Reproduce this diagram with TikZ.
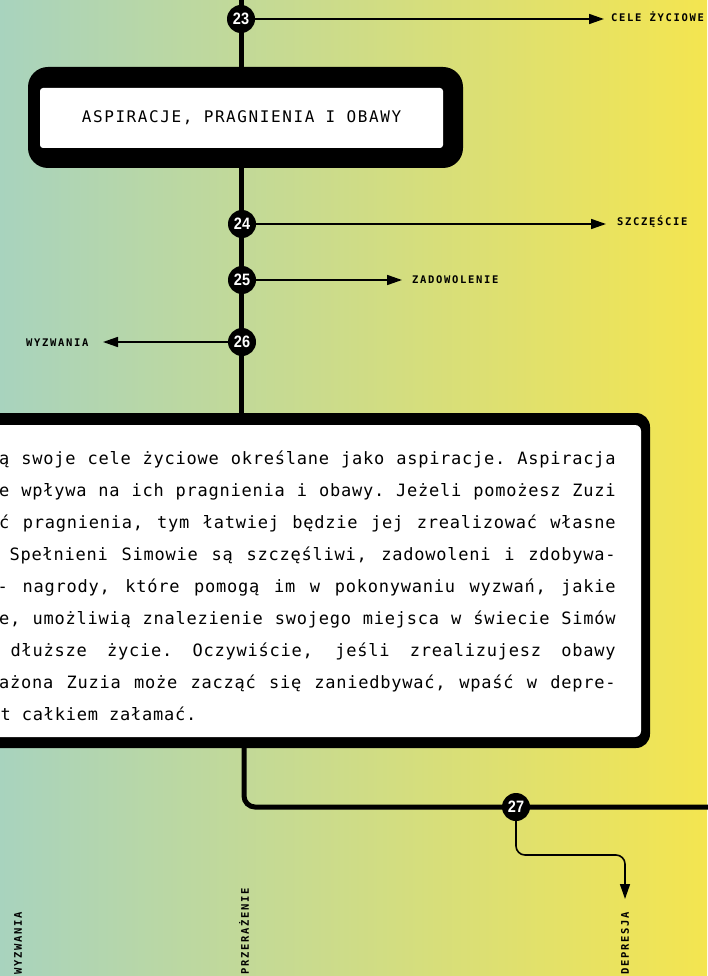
\documentclass[tikz,border=0pt]{standalone}
\usepackage{fontspec}
\usetikzlibrary{arrows.meta}

\newfontfamily\bodyfont{DejaVu Sans Mono}[LetterSpace=4.5]
\newfontfamily\titlefont{DejaVu Sans Mono}[LetterSpace=10]
\newfontfamily\tagfont{DejaVu Sans Mono Bold}[LetterSpace=16]
\newfontfamily\numfont{Liberation Sans Bold}[FakeStretch=0.88]

\definecolor{paperL}{RGB}{168,211,190}
\definecolor{paperM}{RGB}{208,221,142}
\definecolor{paperR}{RGB}{244,229,80}

% one justified line of the description: width, text
\newcommand\jline[2]{\hbox to #1{\spaceskip=11pt plus 1fill minus 3pt\xspaceskip=\spaceskip #2}}

\pgfdeclarelayer{paper}
\pgfdeclarelayer{wires}
\pgfsetlayers{paper,wires,main}

\tikzset{
  trunk/.style={line width=5pt, black},
  branch/.style={line width=1.6pt, black, -{Triangle[length=15pt,width=10pt]}},
  stopdot/.style={circle, fill=black, minimum size=28pt, inner sep=0pt, text=white,
    font=\numfont\fontsize{16.5}{16.5}\selectfont},
  tag/.style={font=\tagfont\fontsize{10.5}{11}\selectfont, inner sep=0pt,
    text height=7.6pt, text depth=0pt},
  body/.style={font=\bodyfont\fontsize{17}{20}\selectfont, inner sep=0pt, anchor=base west},
}

\begin{document}
\begin{tikzpicture}[x=1pt,y=-1pt]
\useasboundingbox (0,0) rectangle (707,976);

\begin{pgfonlayer}{paper}
  \shade[left color=paperL, middle color=paperM, right color=paperR] (0,0) rectangle (707,976);
\end{pgfonlayer}

% stops on the line
\node[stopdot] (n23) at (241,19) {23};
\node[stopdot] (n24) at (242,224) {24};
\node[stopdot] (n25) at (242,280) {25};
\node[stopdot] (n26) at (242,342) {26};
\node[stopdot] (n27) at (516,807) {27};

% title box
\node[fill=black, rounded corners=20pt, minimum width=435pt, minimum height=101pt] (titlebox) at (245.5,117.5) {};
\node[fill=white, rounded corners=3pt, minimum width=403pt, minimum height=60pt,
      font=\titlefont\fontsize{16}{16}\selectfont] (title) at (241.5,118) {ASPIRACJE, PRAGNIENIA I OBAWY};

% description box
\node[fill=black, rounded corners=14pt, minimum width=670pt, minimum height=335pt] (textouter) at (315,580.5) {};
\node[fill=white, rounded corners=6pt, minimum width=661pt, minimum height=312pt] (textinner) at (310.5,581) {};

\node[body] (b1) at (-1,464) {\jline{616.5pt}{ą swoje cele życiowe określane jako aspiracje. Aspiracja}};
\node[body] (b2) at (-1,496) {\jline{616.5pt}{e wpływa na ich pragnienia i obawy. Jeżeli pomożesz Zuzi}};
\node[body] (b3) at (-1,528) {\jline{616.5pt}{ć pragnienia, tym łatwiej będzie jej zrealizować własne}};
\node[body] (b4) at (9.5,560) {\jline{606pt}{Spełnieni Simowie są szczęśliwi, zadowoleni i zdobywa-}};
\node[body] (b5) at (-2.5,592) {\jline{618pt}{- nagrody, które pomogą im w pokonywaniu wyzwań, jakie}};
\node[body] (b6) at (-1,624) {\jline{616.5pt}{e, umożliwią znalezienie swojego miejsca w świecie Simów}};
\node[body] (b7) at (10.5,656) {\jline{605pt}{dłuższe życie. Oczywiście, jeśli zrealizujesz obawy}};
\node[body] (b8) at (-1,688) {\jline{616.5pt}{ażona Zuzia może zacząć się zaniedbywać, wpaść w depre-}};
\node[body] (b9) at (0.5,720) {t całkiem załamać.};

% labels
\node[tag, anchor=west] (lcele) at (611,18) {CELE ŻYCIOWE};
\node[tag, anchor=west] (lszcz) at (617,222) {SZCZĘŚCIE};
\node[tag, anchor=west] (lzad) at (412,280) {ZADOWOLENIE};
\node[tag, anchor=west] (lwyz) at (26,343) {WYZWANIA};
\node[tag, rotate=90, anchor=west] (dwyz) at (18,975) {WYZWANIA};
\node[tag, rotate=90, anchor=west] (dprz) at (245,975) {PRZERAŻENIE};
\node[tag, rotate=90, anchor=west] (ddep) at (625,975) {DEPRESJA};

% arrow ends
\coordinate (t23) at (604,19);
\coordinate (t24) at (606,224);
\coordinate (t25) at (402,280);
\coordinate (t26) at (103,342);
\coordinate (bend) at (625,855);
\coordinate (t27) at (625,899);
\coordinate (exitR) at (720,807);

\begin{pgfonlayer}{wires}
  \draw[trunk] (241,-10) -- (n23 |- titlebox.north);
  \draw[trunk] (n23 |- titlebox.south) -- (n23 |- textouter.north);
  \draw[trunk, rounded corners=11pt] (textouter.south -| 244,0) |- (exitR);
  \draw[branch] (n23) -- (t23);
  \draw[branch] (n24) -- (t24);
  \draw[branch] (n25) -- (t25);
  \draw[branch] (n26) -- (t26);
  \draw[branch, rounded corners=9pt] (n27) |- (bend) -- (t27);
\end{pgfonlayer}
\end{tikzpicture}
\end{document}
